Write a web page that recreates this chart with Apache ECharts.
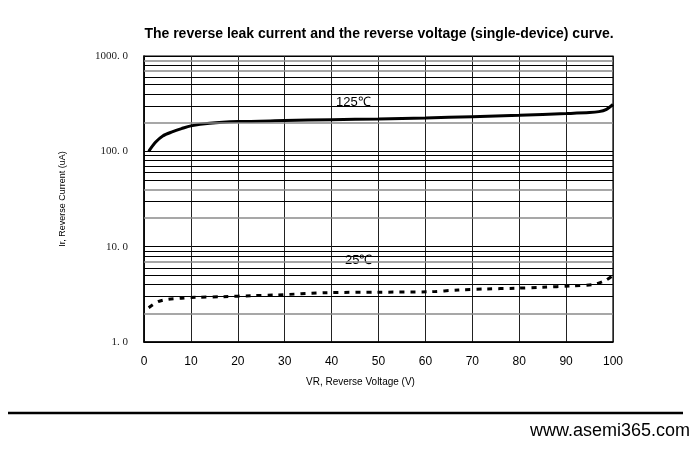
<!DOCTYPE html>
<html>
<head>
<meta charset="utf-8">
<script src="https://cdn.jsdelivr.net/npm/echarts@6/dist/echarts.min.js"></script>
<style>html,body{margin:0;padding:0;background:#fff;}#c{width:700px;height:450px;}</style>
</head>
<body>
<div id="c"></div>
<script>
const titleText = 'The reverse leak current and the reverse voltage (single-device) curve.';
const xName = 'VR, Reverse Voltage (V)';
const yName = 'Ir, Reverse Current (uA)';
const xTicks = [0, 10, 20, 30, 40, 50, 60, 70, 80, 90, 100];
const yTicks = [1, 10, 100, 1000];
const volt125 = [1, 2.5, 4, 6, 8, 10, 14, 20, 30, 40, 50, 60, 70, 80, 90, 95, 97, 98.5, 100];
const cur125 = [100, 125, 145, 160, 173, 185, 197, 205, 210, 215, 219, 224, 231, 239, 249, 255, 261, 274, 310];
const volt25 = [1, 3, 5, 8, 11, 17, 23, 28, 39, 50, 61, 67, 73, 79, 85, 91, 96, 98.3, 100];
const cur25 = [2.29, 2.65, 2.8, 2.88, 2.94, 2.99, 3.06, 3.11, 3.29, 3.33, 3.37, 3.51, 3.6, 3.66, 3.75, 3.87, 4.03, 4.4, 5.0];
const label125 = '125℃';
const label25 = '25℃';
const siteText = 'www.asemi365.com';
const greyMinor = [2, 7, 20, 40, 200, 700, 900];

const minorVals = [];
for (const d of [1, 10, 100]) for (let k = 2; k <= 9; k++) minorVals.push(k * d);

const chart = echarts.init(document.getElementById('c'));
chart.setOption({
  animation: false,
  backgroundColor: '#fff',
  title: {
    text: titleText, left: 374, top: 22, textAlign: 'center',
    textStyle: { fontFamily: 'Liberation Sans', fontSize: 14, fontWeight: 'bold', color: '#000' }
  },
  grid: { left: 144, right: 87, top: 56, bottom: 108, show: true, borderColor: '#000', borderWidth: 1.2 },
  xAxis: {
    type: 'value', min: 0, max: 100, interval: 10,
    axisLine: { show: true, lineStyle: { color: '#000', width: 1.5 } },
    axisTick: { show: false },
    axisLabel: { color: '#000', fontFamily: 'Liberation Sans', fontSize: 12, margin: 14,
      formatter: v => xTicks.includes(v) ? String(v) : '' },
    splitLine: { show: true, lineStyle: { color: '#222', width: 1 } }
  },
  yAxis: {
    type: 'log', logBase: 10, min: 1, max: 1000,
    name: yName, nameLocation: 'middle', nameGap: 77,
    nameTextStyle: { fontFamily: 'Liberation Sans', fontSize: 9, color: '#000' },
    axisLine: { show: true, lineStyle: { color: '#000', width: 1.5 } },
    axisTick: { show: false },
    axisLabel: { color: '#222', fontFamily: 'Liberation Serif', fontSize: 11, margin: 16,
      formatter: v => yTicks.includes(v) ? v.toFixed(1).replace('.', '. ') : '' },
    splitLine: { show: true, lineStyle: { color: '#000', width: 1 } }
  },
  series: [
    {
      type: 'line', name: label125, showSymbol: false, smooth: 0.3,
      data: volt125.map((x, i) => [x, cur125[i]]),
      lineStyle: { color: '#000', width: 3 },
      markLine: {
        silent: true, symbol: 'none', label: { show: false },
        data: minorVals.map(v => ({ yAxis: v, lineStyle: greyMinor.includes(v)
          ? { color: '#8a8a8a', width: 1.6, type: 'solid' }
          : { color: '#000', width: 1, type: 'solid' } }))
      }
    },
    {
      type: 'line', name: label25, showSymbol: false, smooth: 0.3,
      data: volt25.map((x, i) => [x, cur25[i]]),
      lineStyle: { color: '#000', width: 3, type: [5, 6], cap: 'butt' }
    }
  ],
  graphic: [
    { type: 'text', left: 306, top: 377, style: { text: xName, fontFamily: 'Liberation Sans', fontSize: 10, fill: '#000' } },
    { type: 'text', left: 336, top: 96, style: { text: label125, fontFamily: 'Liberation Sans', fontSize: 13, fill: '#000' } },
    { type: 'text', left: 345, top: 254, style: { text: label25, fontFamily: 'Liberation Sans', fontSize: 13, fill: '#000' } },
    { type: 'line', shape: { x1: 8, y1: 413, x2: 683, y2: 413 }, style: { stroke: '#000', lineWidth: 2.5 } },
    { type: 'text', right: 10, top: 422, style: { text: siteText, fontFamily: 'Liberation Sans', fontSize: 18, fill: '#000' } }
  ]
});
</script>
</body>
</html>
